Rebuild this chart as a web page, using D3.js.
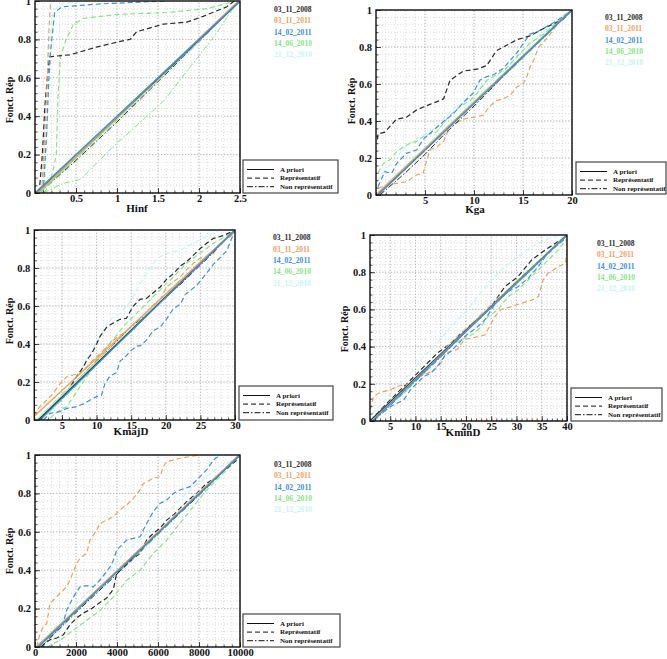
<!DOCTYPE html>
<html><head><meta charset="utf-8">
<script src="https://cdn.jsdelivr.net/npm/d3@7"></script>
<style>
body{margin:0;background:#fff}
svg{display:block}
text{font-family:"Liberation Serif","Times New Roman",serif;font-weight:bold}
</style>
</head><body>
<svg id="c" width="667" height="659"></svg>
<script>
// ---------- shared ----------
const dates = ["03_11_2008","03_11_2011","14_02_2011","14_06_2010","21_12_2010"];
const dateColors = ["#2a2a2a","#f3a15a","#3b8fe4","#84e784","#c4f6f6"];
const typeLabels = ["A priori","Représentatif","Non représentatif"];
const yTicks = [0,0.2,0.4,0.6,0.8,1];
const yLabel = "Fonct. Rép";

// ---------- Hinf ----------
const hinfTicks = [0.5,1,1.5,2,2.5];
const hinfRep2008 = [[0.05,0],[0.09,0.2],[0.12,0.45],[0.16,0.65],[0.18,0.71],[0.43,0.72],[0.75,0.76],[1.04,0.79],[1.16,0.8],[1.24,0.84],[1.57,0.88],[1.85,0.89],[2.05,0.92],[2.34,0.97],[2.43,1]];
const hinfRep2011a = [[0.08,0],[0.12,0.3],[0.15,0.6],[0.17,0.85],[0.19,1]];
const hinfRep2011b = [[0.1,0],[0.14,0.3],[0.17,0.6],[0.19,0.74],[0.24,0.94],[0.33,0.97],[0.8,0.985],[1.6,1]];
const hinfRep2010a = [[0.12,0],[0.2,0.08],[0.26,0.2],[0.28,0.5],[0.31,0.71],[0.38,0.8],[0.47,0.88],[0.6,0.91],[1.0,0.93],[1.6,0.94],[2.1,0.96],[2.45,1]];
const hinfRep2010b = [[0.12,0],[0.15,0.4],[0.18,0.8],[0.22,0.95],[0.35,0.99],[0.7,1]];
const hinfNon2008 = [[0.05,0],[0.5,0.17],[1,0.37],[1.5,0.58],[2,0.79],[2.5,1]];
const hinfNon2011a = [[0.04,0],[0.6,0.22],[1.2,0.46],[1.8,0.71],[2.5,1]];
const hinfNon2011b = [[0.03,0],[0.7,0.27],[1.4,0.55],[2,0.79],[2.5,1]];
const hinfNon2010a = [[0.1,0],[0.34,0.05],[0.55,0.07],[0.95,0.24],[1.57,0.48],[2.21,0.83],[2.46,0.99]];
const hinfNon2010b = [[0.06,0],[0.6,0.2],[1.2,0.44],[1.9,0.74],[2.5,1]];
const hinfApr2008 = [[0.02,0],[2.5,1]];
const hinfApr2011a = [[0.03,0],[2.48,1]];
const hinfApr2011b = [[0,0],[2.5,1]];
const hinfApr2010a = [[0.05,0],[2.5,1]];
const hinfApr2010b = [[0.04,0],[2.5,1]];

// ---------- Kga ----------
const kgaTicks = [5,10,15,20];
const kgaRep2008 = [[0.15,0.3],[0.2,0.33],[0.9,0.34],[2.1,0.41],[3.1,0.42],[4.15,0.46],[5.5,0.49],[6.5,0.51],[6.9,0.52],[7.55,0.62],[8.9,0.67],[10.3,0.68],[11.3,0.7],[12.3,0.78],[13,0.8],[14.4,0.84],[15.7,0.86],[17.1,0.9],[19.1,0.95],[19.8,0.99]];
const kgaRep2011a = [[0.2,0.036],[1.1,0.054],[2.1,0.063],[3.1,0.072],[4.15,0.108],[4.8,0.117],[5.2,0.19],[5.5,0.243],[6.2,0.26],[6.9,0.29],[7.55,0.37],[8.2,0.39],[8.9,0.41],[9.9,0.42],[10.9,0.43],[11.6,0.48],[12.3,0.51],[13,0.52],[13.7,0.54],[14.4,0.585],[15,0.6],[15.4,0.64],[15.7,0.69],[16.1,0.73],[16.6,0.8],[17.5,0.85],[18.2,0.9],[19,0.96],[19.8,1]];
const kgaRep2011b = [[0.2,0.045],[0.9,0.126],[1.6,0.117],[2.1,0.17],[3.1,0.225],[4.15,0.243],[4.8,0.3],[6.5,0.38],[7.9,0.44],[8.9,0.5],[9.9,0.55],[10.6,0.62],[11.3,0.64],[12,0.65],[13,0.685],[14.4,0.77],[15.7,0.87],[16.4,0.88],[18.4,0.94],[19.8,0.99]];
const kgaRep2010a = [[0.2,0.12],[0.75,0.17],[1.43,0.19],[2.1,0.234],[2.8,0.26],[3.47,0.28],[4.15,0.29],[4.8,0.315],[5.5,0.33],[6.2,0.34],[6.9,0.39],[7.55,0.43],[8.6,0.48],[9.6,0.51],[10.3,0.55],[11.3,0.62],[12.3,0.65],[13.3,0.685],[14.4,0.75],[15.7,0.82],[17.1,0.87],[18.4,0.93],[19.8,0.99]];
const kgaRep2010b = [[0.2,0.08],[1,0.14],[2,0.2],[3,0.26],[4,0.3],[5,0.33],[6,0.36],[7,0.42],[8,0.47],[9,0.5],[10,0.55],[11,0.6],[12,0.63],[13,0.67],[14,0.72],[15,0.78],[16,0.83],[17,0.88],[18,0.92],[19,0.96],[20,1]];
const kgaNon2008 = [[0.4,0],[3,0.12],[5,0.22],[7,0.33],[10,0.48],[13,0.64],[16,0.8],[20,1]];
const kgaNon2011a = [[0.3,0],[3,0.14],[6,0.29],[10,0.49],[14,0.69],[17,0.85],[20,1]];
const kgaNon2011b = [[0.2,0],[4,0.2],[8,0.4],[12,0.6],[16,0.8],[20,1]];
const kgaNon2010a = [[0.3,0],[4,0.19],[8,0.39],[12,0.59],[16,0.79],[20,1]];
const kgaNon2010b = [[0.2,0.02],[4,0.21],[8,0.41],[12,0.61],[16,0.8],[20,1]];
const kgaApr2008 = [[0.1,0],[20,1]];
const kgaApr2011a = [[0,0],[20,1]];
const kgaApr2011b = [[0.2,0],[20,1]];
const kgaApr2010a = [[0,0],[19.9,1]];
const kgaApr2010b = [[0.1,0],[20,1]];

// ---------- KmajD ----------
const kmajTicks = [5,10,15,20,25,30];
const kmajRep2008 = [[1.6,0],[2.3,0.018],[3.27,0.053],[4.2,0.096],[5.2,0.12],[6.2,0.175],[7.1,0.228],[8.1,0.28],[8.6,0.316],[9.3,0.35],[10,0.4],[10.5,0.44],[11.5,0.49],[12.4,0.51],[13.4,0.53],[14.3,0.535],[15.3,0.6],[16.3,0.635],[17.2,0.64],[18.2,0.67],[19.2,0.7],[20.1,0.74],[21.1,0.77],[22.1,0.81],[23,0.833],[24,0.868],[24.9,0.9],[25.9,0.93],[26.9,0.956],[28.3,0.97],[30,1]];
const kmajRep2011a = [[1,0.02],[1.1,0.035],[1.8,0.07],[2.8,0.105],[3.74,0.14],[4.7,0.19],[5.7,0.228],[6.6,0.237],[7.6,0.246],[8.6,0.28],[9.5,0.316],[10.5,0.35],[11.5,0.386],[12.4,0.42],[13.4,0.447],[14.3,0.456],[15.3,0.47],[16.3,0.526],[17.2,0.544],[18.2,0.596],[19.2,0.63],[20.1,0.7],[21.1,0.728],[22.1,0.754],[23,0.79],[24,0.825],[24.9,0.85],[25.9,0.86],[26.9,0.877],[27.8,0.93],[29.3,0.965],[30,0.99]];
const kmajRep2011b = [[2.3,0],[3.27,0.035],[4.7,0.044],[5.7,0.061],[7.1,0.07],[8.3,0.088],[9.05,0.105],[10,0.123],[10.7,0.13],[11.2,0.19],[11.9,0.23],[12.9,0.25],[13.4,0.31],[14.1,0.33],[14.8,0.36],[15.8,0.39],[16.3,0.39],[17.2,0.42],[18.2,0.47],[19.2,0.49],[20.1,0.53],[20.6,0.56],[21.1,0.585],[22.1,0.61],[22.8,0.66],[23.5,0.68],[24.5,0.71],[25.4,0.75],[26.9,0.82],[28.8,0.89],[30,1]];
const kmajRep2010a = [[3.27,0.01],[4.7,0.053],[5.7,0.07],[6.6,0.12],[7.6,0.175],[8.6,0.228],[10,0.316],[11.5,0.386],[12.9,0.447],[14.3,0.51],[15.3,0.544],[16.75,0.596],[18.2,0.65],[19.6,0.7],[21.1,0.754],[23,0.825],[24.9,0.877],[26.9,0.93],[28.8,0.97],[30,1]];
const kmajRep2010b = [[1.8,0.018],[3.27,0.07],[4.7,0.123],[6.2,0.19],[7.6,0.26],[9.05,0.35],[10.5,0.44],[11.5,0.51],[12.4,0.54],[13.4,0.56],[14.3,0.596],[15.3,0.65],[16.3,0.72],[17.2,0.77],[18.2,0.825],[19.2,0.86],[20.1,0.877],[22.1,0.895],[24,0.93],[25.9,0.965],[27.8,1]];
const kmajNon2008 = [[1.5,0],[5,0.13],[10,0.31],[15,0.49],[18,0.58],[22,0.71],[26,0.85],[30,1]];
const kmajNon2011a = [[1.2,0],[6,0.17],[12,0.38],[18,0.6],[24,0.8],[30,1]];
const kmajNon2011b = [[1.5,0],[6,0.15],[12,0.37],[18,0.58],[24,0.79],[30,1]];
const kmajNon2010a = [[2,0],[6,0.14],[12,0.36],[18,0.58],[24,0.8],[30,1]];
const kmajNon2010b = [[1.5,0],[7,0.2],[13,0.41],[19,0.62],[25,0.83],[30,1]];
const kmajApr2008 = [[1.6,0],[30,1]];
const kmajApr2011a = [[1,0.02],[30,1]];
const kmajApr2011b = [[1.8,0],[30,1]];
const kmajApr2010a = [[1.5,0],[30,1]];
const kmajApr2010b = [[1.3,0],[30,1]];

// ---------- KminD ----------
const kminTicks = [5,10,15,20,25,30,35,40];
const kminRep2008 = [[1.2,0],[1.67,0.022],[3.67,0.076],[6.33,0.149],[9,0.22],[11.67,0.292],[14.3,0.364],[17,0.418],[19.7,0.49],[22.3,0.543],[25,0.615],[27.7,0.722],[30.3,0.776],[33,0.866],[35.7,0.92],[37.7,0.955],[39.7,0.99]];
const kminRep2011a = [[1,0.06],[1.33,0.086],[1.67,0.13],[2.67,0.149],[3.67,0.158],[5,0.167],[6.33,0.185],[7.67,0.194],[9,0.203],[9.67,0.23],[11,0.24],[12.3,0.256],[13.7,0.274],[15,0.31],[16,0.366],[17,0.375],[18.3,0.384],[19.7,0.44],[21,0.445],[22.3,0.453],[23.7,0.462],[24.3,0.49],[25.7,0.56],[27,0.6],[29,0.615],[31,0.633],[33,0.65],[34.3,0.668],[34.7,0.704],[35.3,0.76],[36.3,0.795],[38.3,0.83],[39.7,0.848],[40,0.92],[40,0.97]];
const kminRep2011b = [[2.33,0.023],[3.67,0.05],[5,0.077],[6.33,0.095],[7.67,0.113],[9,0.167],[10.3,0.203],[11.7,0.24],[13,0.256],[14.3,0.292],[15.7,0.346],[17,0.375],[18.3,0.41],[19.7,0.453],[21,0.48],[22.3,0.507],[23.7,0.543],[25,0.597],[26.3,0.65],[28.3,0.696],[30.3,0.722],[32.3,0.767],[34.3,0.83],[35.7,0.884],[37.7,0.937],[39.7,0.982]];
const kminRep2010a = [[1.67,0.011],[3.67,0.059],[5.67,0.104],[7.67,0.149],[9.67,0.203],[11.67,0.256],[13.67,0.31],[15.67,0.364],[17.67,0.418],[19.67,0.445],[21.67,0.471],[23,0.507],[24.3,0.56],[26.3,0.597],[28.3,0.668],[30.3,0.704],[32.3,0.758],[34.3,0.812],[36.3,0.866],[38.3,0.92],[40,0.982]];
const kminRep2010b = [[1.33,0.04],[3.67,0.104],[6.33,0.185],[9,0.256],[11.67,0.346],[14.3,0.418],[17,0.507],[19.7,0.579],[22.3,0.668],[25,0.758],[27.7,0.83],[30.3,0.884],[33,0.937],[35.7,0.973],[38.3,1]];
const kminNon2008 = [[1.5,0],[8,0.18],[15,0.36],[22,0.54],[30,0.75],[36,0.9],[40,1]];
const kminNon2011a = [[1.2,0],[8,0.17],[16,0.39],[24,0.6],[32,0.8],[40,1]];
const kminNon2011b = [[1.8,0],[8,0.16],[16,0.37],[24,0.59],[32,0.79],[40,1]];
const kminNon2010a = [[1.5,0],[9,0.2],[17,0.41],[25,0.61],[33,0.81],[40,1]];
const kminNon2010b = [[1.2,0.01],[9,0.21],[17,0.42],[25,0.63],[33,0.83],[40,1]];
const kminApr2008 = [[1,0],[40,1]];
const kminApr2011a = [[1.3,0],[40,1]];
const kminApr2011b = [[1.5,0],[40,1]];
const kminApr2010a = [[1.2,0],[39.8,1]];
const kminApr2010b = [[1,0],[40,1]];

// ---------- Ks ----------
const ksTicks = [0,2000,4000,6000,8000,10000];
const ksRep2008 = [[300,0],[406,0.012],[732,0.038],[1057,0.047],[1382,0.064],[1707,0.116],[2033,0.151],[2358,0.177],[2683,0.194],[3008,0.22],[3496,0.255],[3821,0.3],[3984,0.385],[4309,0.411],[4797,0.462],[5122,0.488],[5447,0.557],[5772,0.592],[6098,0.618],[6423,0.661],[6748,0.687],[7073,0.722],[7398,0.757],[7886,0.8],[8374,0.852],[8862,0.887],[9350,0.93],[9838,0.974]];
const ksRep2011a = [[81,0],[244,0.07],[406,0.106],[569,0.122],[732,0.227],[894,0.245],[1220,0.28],[1545,0.314],[1707,0.349],[2033,0.435],[2195,0.462],[2520,0.488],[2683,0.557],[3008,0.609],[3171,0.644],[3496,0.661],[3821,0.679],[4146,0.714],[4472,0.74],[4797,0.774],[5122,0.818],[5285,0.852],[5772,0.878],[6098,0.887],[6260,0.939],[6423,0.965],[7073,0.983],[8049,1]];
const ksRep2011b = [[81,0],[406,0.035],[732,0.052],[1057,0.087],[1382,0.13],[1545,0.191],[1707,0.226],[1870,0.26],[2195,0.313],[2520,0.32],[2846,0.313],[3171,0.349],[3659,0.417],[3821,0.452],[3984,0.505],[4472,0.557],[4797,0.566],[5122,0.574],[5447,0.644],[5772,0.705],[6098,0.748],[6423,0.765],[6748,0.8],[7073,0.818],[7561,0.835],[8049,0.887],[8374,0.922],[8699,0.974],[9024,1]];
const ksRep2010a = [[569,0],[1220,0.035],[1870,0.087],[2520,0.139],[3171,0.191],[3821,0.26],[4472,0.347],[5122,0.4],[5772,0.488],[6423,0.557],[7073,0.644],[7724,0.731],[8374,0.818],[9024,0.887],[9675,0.957],[10000,0.99]];
const ksRep2010b = [[81,0.01],[569,0.052],[1220,0.13],[1870,0.21],[2520,0.28],[3171,0.35],[3821,0.418],[4472,0.505],[5122,0.557],[5772,0.627],[6423,0.696],[7073,0.766],[7724,0.835],[8374,0.887],[9024,0.939],[9675,0.974],[10000,1]];
const ksNon2008 = [[300,0],[2000,0.18],[4000,0.38],[6000,0.59],[8000,0.79],[10000,1]];
const ksNon2011a = [[150,0],[2000,0.19],[4000,0.39],[6000,0.6],[8000,0.8],[10000,1]];
const ksNon2011b = [[200,0],[2500,0.24],[5000,0.49],[7500,0.75],[10000,1]];
const ksNon2010a = [[250,0],[2500,0.23],[5000,0.48],[7500,0.74],[10000,1]];
const ksNon2010b = [[100,0],[2500,0.25],[5000,0.5],[7500,0.76],[10000,1]];
const ksApr2008 = [[100,0],[10000,1]];
const ksApr2011a = [[80,0],[9950,1]];
const ksApr2011b = [[150,0],[10000,1]];
const ksApr2010a = [[120,0],[10000,1]];
const ksApr2010b = [[60,0],[10000,1]];

// ---------- panels (layout + references to the data above) ----------
const panels = [
  {xlab:"Hinf", dom:[0,2.5], ticks:hinfTicks, minor:0.1, r:[35,240,193,1],
   rep:[hinfRep2008,hinfRep2011a,hinfRep2011b,hinfRep2010a,hinfRep2010b],
   non:[hinfNon2008,hinfNon2011a,hinfNon2011b,hinfNon2010a,hinfNon2010b],
   apr:[hinfApr2008,hinfApr2011a,hinfApr2011b,hinfApr2010a,hinfApr2010b],
   dl:[274,9.3], box:[243,160,95,33], ylp:[9,100], xlp:[137,212]},
  {xlab:"Kga", dom:[0,20], ticks:kgaTicks, minor:1, r:[376,572,195,10],
   rep:[kgaRep2008,kgaRep2011a,kgaRep2011b,kgaRep2010a,kgaRep2010b],
   non:[kgaNon2008,kgaNon2011a,kgaNon2011b,kgaNon2010a,kgaNon2010b],
   apr:[kgaApr2008,kgaApr2011a,kgaApr2011b,kgaApr2010a,kgaApr2010b],
   dl:[605,17.3], box:[576,162,90,32], ylp:[351,101], xlp:[475,213]},
  {xlab:"KmajD", dom:[1,30], ticks:kmajTicks, minor:1, r:[34.3,235,420,230],
   rep:[kmajRep2008,kmajRep2011a,kmajRep2011b,kmajRep2010a,kmajRep2010b],
   non:[kmajNon2008,kmajNon2011a,kmajNon2011b,kmajNon2010a,kmajNon2010b],
   apr:[kmajApr2008,kmajApr2011a,kmajApr2011b,kmajApr2010a,kmajApr2010b],
   dl:[273,237.7], box:[239,386,94,34], ylp:[9,321], xlp:[131,435]},
  {xlab:"KminD", dom:[1,40], ticks:kminTicks, minor:1, r:[370,567,421,235],
   rep:[kminRep2008,kminRep2011a,kminRep2011b,kminRep2010a,kminRep2010b],
   non:[kminNon2008,kminNon2011a,kminNon2011b,kminNon2010a,kminNon2010b],
   apr:[kminApr2008,kminApr2011a,kminApr2011b,kminApr2010a,kminApr2010b],
   dl:[597,243.3], box:[571,388,91,33], ylp:[344,329], xlp:[463,436]},
  {xlab:"Ks", dom:[0,10000], ticks:ksTicks, minor:400, r:[35,240,647,455],
   rep:[ksRep2008,ksRep2011a,ksRep2011b,ksRep2010a,ksRep2010b],
   non:[ksNon2008,ksNon2011a,ksNon2011b,ksNon2010a,ksNon2010b],
   apr:[ksApr2008,ksApr2011a,ksApr2011b,ksApr2010a,ksApr2010b],
   dl:[274,464.3], box:[243,614,97,33], ylp:[9,551], xlp:[138,667]}
];

const svg = d3.select("#c");
const DASH = "5,3", DASHDOT = "6,2,1.5,2";

panels.forEach((p, pi) => {
  const g = svg.append("g");
  const x = d3.scaleLinear().domain(p.dom).range([p.r[0], p.r[1]]);
  const y = d3.scaleLinear().domain([0,1]).range([p.r[2], p.r[3]]);
  const W = p.r[1]-p.r[0], H = p.r[2]-p.r[3];

  // grid
  const minorXs = d3.range(p.dom[0], p.dom[1]+1e-9, p.minor);
  const minorYs = d3.range(0, 1.0001, 0.04);
  const grid = g.append("g");
  grid.selectAll(".gx").data(minorXs).join("line")
    .attr("x1", d=>x(d)).attr("x2", d=>x(d)).attr("y1", p.r[2]).attr("y2", p.r[3])
    .attr("stroke", "#c4c4c4").attr("stroke-width", 0.6).attr("stroke-dasharray", "1,2");
  grid.selectAll(".gy").data(minorYs).join("line")
    .attr("y1", d=>y(d)).attr("y2", d=>y(d)).attr("x1", p.r[0]).attr("x2", p.r[1])
    .attr("stroke", "#c4c4c4").attr("stroke-width", 0.6).attr("stroke-dasharray", "1,2");
  grid.selectAll(".gX").data(p.ticks).join("line")
    .attr("x1", d=>x(d)).attr("x2", d=>x(d)).attr("y1", p.r[2]).attr("y2", p.r[3])
    .attr("stroke", "#b0b0b0").attr("stroke-width", 0.7).attr("stroke-dasharray", "1.5,1.5");
  grid.selectAll(".gY").data(yTicks).join("line")
    .attr("y1", d=>y(d)).attr("y2", d=>y(d)).attr("x1", p.r[0]).attr("x2", p.r[1])
    .attr("stroke", "#b0b0b0").attr("stroke-width", 0.7).attr("stroke-dasharray", "1.5,1.5");

  // clip
  const cid = "clip"+pi;
  svg.append("clipPath").attr("id", cid).append("rect")
    .attr("x", p.r[0]).attr("y", p.r[3]).attr("width", W).attr("height", H);
  const plot = g.append("g").attr("clip-path", `url(#${cid})`);
  const line = d3.line().x(d=>x(d[0])).y(d=>y(d[1]));

  const order = [4,3,0,1,2];
  order.forEach(i => {
    plot.append("path").datum(p.rep[i]).attr("d", line).attr("fill","none")
      .attr("stroke", dateColors[i]).attr("stroke-width", 1.2).attr("stroke-dasharray", DASH);
  });
  order.forEach(i => {
    plot.append("path").datum(p.non[i]).attr("d", line).attr("fill","none")
      .attr("stroke", dateColors[i]).attr("stroke-width", 1).attr("stroke-dasharray", DASHDOT);
  });
  order.forEach(i => {
    plot.append("path").datum(p.apr[i]).attr("d", line).attr("fill","none")
      .attr("stroke", dateColors[i]).attr("stroke-width", 1.3);
  });

  // axes
  const ax = g.append("g");
  const yAxis = d3.axisLeft(y).tickValues(yTicks).tickSize(-5).tickPadding(4).tickFormat(d=>String(d));
  const yMinor = d3.axisLeft(y).tickValues(minorYs).tickSize(-2.5).tickFormat("");
  const xAxis = d3.axisBottom(x).tickValues(p.ticks).tickSize(-5).tickPadding(3).tickFormat(d=>String(d));
  const xMinor = d3.axisBottom(x).tickValues(minorXs).tickSize(-2.5).tickFormat("");
  ax.append("g").attr("transform", `translate(${p.r[0]},0)`).call(yAxis);
  ax.append("g").attr("transform", `translate(${p.r[0]},0)`).call(yMinor);
  const xa = ax.append("g").attr("transform", `translate(0,${p.r[2]})`).call(xAxis);
  ax.append("g").attr("transform", `translate(0,${p.r[2]})`).call(xMinor);
  ax.selectAll(".domain").remove();
  ax.selectAll(".tick line").attr("stroke", "#222").attr("stroke-width", 0.8);
  ax.selectAll(".tick text").attr("font-size", 10.5).attr("fill", "#111")
    .attr("font-family", '"Liberation Serif",serif').attr("font-weight", "bold");
  xa.selectAll(".tick text").attr("dy", "0.6em");

  // frame
  g.append("rect").attr("x", p.r[0]).attr("y", p.r[3]).attr("width", W).attr("height", H)
    .attr("fill", "none").attr("stroke", "#111").attr("stroke-width", 1.4);

  // axis titles
  g.append("text").attr("transform", `translate(${p.ylp[0]},${p.ylp[1]}) rotate(-90)`)
    .attr("text-anchor", "middle").attr("dominant-baseline", "central")
    .attr("font-size", 10).attr("fill", "#111").text(yLabel);
  g.append("text").attr("x", p.xlp[0]).attr("y", p.xlp[1]).attr("text-anchor", "middle")
    .attr("font-size", 11).attr("fill", "#111").text(p.xlab);

  // date legend (colored text)
  dates.forEach((d, i) => {
    g.append("text").attr("x", p.dl[0]).attr("y", p.dl[1] + i*11.4)
      .attr("dominant-baseline", "central").attr("font-size", 7.6)
      .attr("fill", dateColors[i]).text(d);
  });

  // type legend box
  const [bx, by, bw, bh] = p.box;
  const lg = g.append("g");
  lg.append("rect").attr("x", bx).attr("y", by).attr("width", bw).attr("height", bh)
    .attr("fill", "#fff").attr("stroke", "#444").attr("stroke-width", 1.2);
  const styles = [null, DASH, DASHDOT];
  typeLabels.forEach((t, i) => {
    const ly = by + 9.5 + i*8.6;
    lg.append("line").attr("x1", bx+4).attr("x2", bx+31).attr("y1", ly).attr("y2", ly)
      .attr("stroke", "#111").attr("stroke-width", 1)
      .attr("stroke-dasharray", styles[i]);
    lg.append("text").attr("x", bx+37).attr("y", ly).attr("dominant-baseline", "central")
      .attr("font-size", 7).attr("fill", "#111").text(t);
  });
});
</script>
</body></html>
